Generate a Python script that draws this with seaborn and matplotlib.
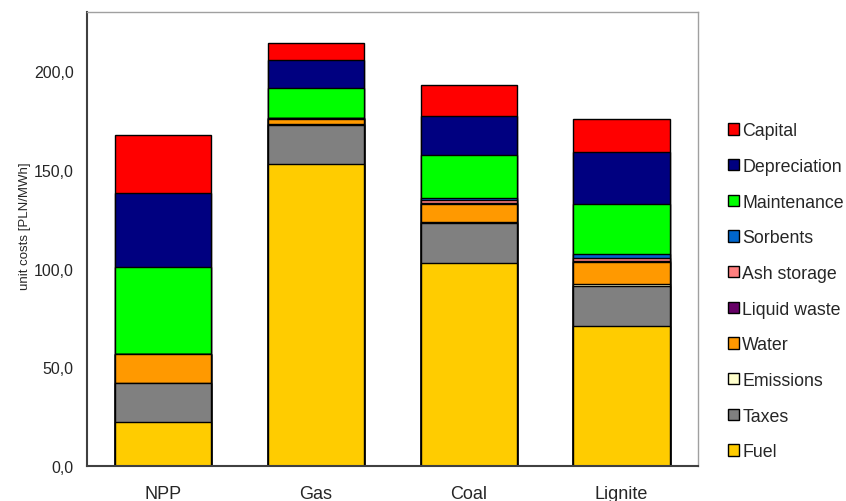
import numpy as np
import pandas as pd
import seaborn as sns
import matplotlib.pyplot as plt
from matplotlib.patches import Patch
from matplotlib.ticker import FuncFormatter

# categories and cost components (bottom to top)
plants = ['NPP', 'Gas', 'Coal', 'Lignite']
components = ['Fuel', 'Taxes', 'Emissions', 'Water', 'Liquid waste',
              'Ash storage', 'Sorbents', 'Maintenance', 'Depreciation', 'Capital']

fuel = [22.2, 153.0, 103.0, 71.2]
taxes = [19.9, 20.0, 20.0, 20.3]
emissions = [0.0, 0.5, 0.8, 1.0]
water = [14.6, 2.6, 9.0, 10.9]
liquid_waste = [0.0, 0.3, 0.3, 0.4]
ash_storage = [0.0, 0.0, 1.6, 1.6]
sorbents = [0.0, 0.0, 1.2, 2.2]
maintenance = [44.3, 15.4, 22.0, 25.4]
depreciation = [37.6, 14.1, 19.6, 26.2]
capital = [29.4, 8.4, 15.7, 16.9]

colors = ['#FFCC00', '#808080', '#FFFFCC', '#FF9900', '#660066',
          '#FF8080', '#0066CC', '#00FF00', '#000080', '#FF0000']

df = pd.DataFrame({
    'Fuel': fuel, 'Taxes': taxes, 'Emissions': emissions, 'Water': water,
    'Liquid waste': liquid_waste, 'Ash storage': ash_storage,
    'Sorbents': sorbents, 'Maintenance': maintenance,
    'Depreciation': depreciation, 'Capital': capital,
}, index=plants)
cum = df[components].cumsum(axis=1)

sns.set_style('white')
plt.rcParams['font.family'] = ['Liberation Sans', 'DejaVu Sans']

fig = plt.figure(figsize=(8.46, 5.02), dpi=100)
ax = fig.add_axes([0.1028, 0.0697, 0.7222, 0.9038])

# draw cumulative totals from the top down so each layer covers the one above
for comp, col in reversed(list(zip(components, colors))):
    sns.barplot(x=plants, y=cum[comp].values, color=col, edgecolor='black',
                linewidth=1.0, width=0.63, saturation=1, ax=ax)

ax.set_ylim(0, 230)
ax.set_xlim(-0.5, 3.5)
ax.set_yticks([0, 50, 100, 150, 200])
ax.yaxis.set_major_formatter(FuncFormatter(lambda v, p: f'{v:.1f}'.replace('.', ',')))
ax.set_ylabel('unit costs [PLN/MWh]', fontsize=9.5)
ax.yaxis.set_label_coords(-0.092, 0.53)
ax.set_xlabel('')

ax.set_xticks([-0.5, 0.5, 1.5, 2.5, 3.5], minor=True)
ax.tick_params(axis='x', which='major', length=0, pad=14, labelsize=13)
ax.tick_params(axis='x', which='minor', length=6, direction='out', color='#404040')
ax.tick_params(axis='y', length=6, direction='out', labelsize=11.5, color='#404040')

for side in ['left', 'bottom']:
    ax.spines[side].set_color('#404040')
    ax.spines[side].set_linewidth(1.5)
for side in ['top', 'right']:
    ax.spines[side].set_color('#A0A0A0')
    ax.spines[side].set_linewidth(1.0)

handles = [Patch(facecolor=c, edgecolor='black', label=n)
           for n, c in zip(components, colors)][::-1]
ax.legend(handles=handles, loc='center left', bbox_to_anchor=(1.023, 0.385),
          frameon=False, fontsize=12.8, handlelength=0.6, handleheight=0.6,
          handletextpad=0.2, labelspacing=1.05)

fig.savefig('out.png', dpi=100)
